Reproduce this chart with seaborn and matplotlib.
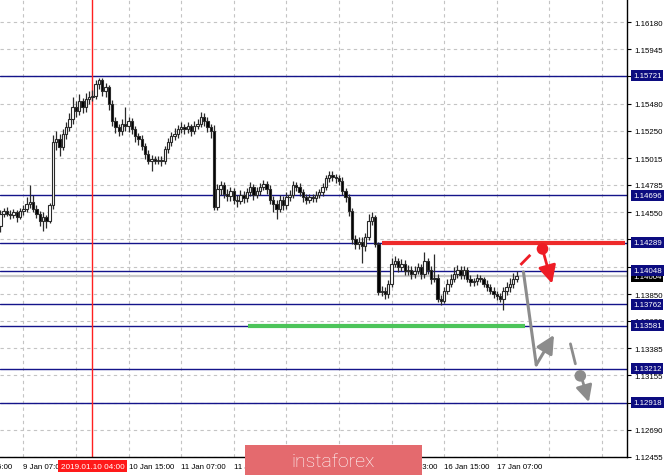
import numpy as np
import pandas as pd
import seaborn as sns
import matplotlib.pyplot as plt
import matplotlib.transforms as mtransforms
from matplotlib.patches import Rectangle

# hourly EURUSD candles (open = previous close)
first_open = 1.1443
closes = [1.1454, 1.1456, 1.1454, 1.1453, 1.1455, 1.1451, 1.1456, 1.1458, 1.1462, 1.1464,
          1.1458, 1.1454, 1.1448, 1.1451, 1.1448, 1.1461, 1.1515, 1.1518, 1.1511, 1.1522,
          1.1528, 1.1535, 1.1545, 1.1542, 1.1550, 1.1545, 1.1552, 1.1554, 1.1555, 1.1565,
          1.1568, 1.1559, 1.1562, 1.1548, 1.1533, 1.1528, 1.1525, 1.1531, 1.1529, 1.1533,
          1.1526, 1.1520, 1.1518, 1.1512, 1.1505, 1.1499, 1.1501, 1.1499, 1.1500, 1.1499,
          1.1509, 1.1515, 1.1520, 1.1522, 1.1526, 1.1528, 1.1526, 1.1529, 1.1525, 1.1529,
          1.1531, 1.1537, 1.1533, 1.1528, 1.1525, 1.1460, 1.1475, 1.1478, 1.1471, 1.1469,
          1.1473, 1.1466, 1.1465, 1.1470, 1.1467, 1.1472, 1.1477, 1.1470, 1.1473, 1.1477,
          1.1479, 1.1475, 1.1466, 1.1462, 1.1458, 1.1466, 1.1461, 1.1468, 1.1470, 1.1478,
          1.1477, 1.1472, 1.1468, 1.1466, 1.1468, 1.1467, 1.1470, 1.1472, 1.1477, 1.1484,
          1.1487, 1.1485, 1.1484, 1.1482, 1.1473, 1.1468, 1.1456, 1.1432, 1.1428, 1.1430,
          1.1426, 1.1434, 1.1448, 1.1451, 1.1428, 1.1387, 1.1388, 1.1385, 1.1394, 1.1411,
          1.1413, 1.1408, 1.1411, 1.1405, 1.1406, 1.1402, 1.1405, 1.1408, 1.1402, 1.1413,
          1.1406, 1.1398, 1.1399, 1.1381, 1.1379, 1.1388, 1.1394, 1.1398, 1.1402, 1.1406,
          1.1401, 1.1406, 1.1398, 1.1395, 1.1396, 1.1399, 1.1398, 1.1394, 1.1391, 1.1388,
          1.1385, 1.1383, 1.1381, 1.1388, 1.1391, 1.1394, 1.1398, 1.14004]
highs = [1.1457, 1.1459, 1.1460, 1.1457, 1.1458, 1.1457, 1.1459, 1.1461, 1.1468, 1.1478,
         1.1470, 1.1461, 1.1456, 1.1455, 1.1453, 1.1463, 1.1521, 1.1525, 1.1522, 1.1526,
         1.1532, 1.1540, 1.1554, 1.1550, 1.1556, 1.1553, 1.1557, 1.1559, 1.1560, 1.1568,
         1.1570, 1.1570, 1.1566, 1.1564, 1.1551, 1.1537, 1.1531, 1.1535, 1.1545, 1.1537,
         1.1536, 1.1529, 1.1523, 1.1521, 1.1514, 1.1508, 1.1504, 1.1503, 1.1503, 1.1503,
         1.1512, 1.1519, 1.1524, 1.1527, 1.1530, 1.1532, 1.1531, 1.1532, 1.1531, 1.1533,
         1.1535, 1.1541, 1.1540, 1.1537, 1.1531, 1.1530, 1.1479, 1.1482, 1.1481, 1.1475,
         1.1477, 1.1476, 1.1470, 1.1474, 1.1473, 1.1476, 1.1481, 1.1479, 1.1477, 1.1480,
         1.1483, 1.1482, 1.1478, 1.1469, 1.1466, 1.1470, 1.1469, 1.1472, 1.1474, 1.1482,
         1.1481, 1.1480, 1.1475, 1.1471, 1.1471, 1.1471, 1.1473, 1.1475, 1.1480, 1.1487,
         1.1490, 1.1490, 1.1488, 1.1487, 1.1485, 1.1476, 1.1471, 1.1459, 1.1436, 1.1434,
         1.1434, 1.1437, 1.1454, 1.1455, 1.1453, 1.1430, 1.1392, 1.1391, 1.1397, 1.1416,
         1.1418, 1.1416, 1.1415, 1.1414, 1.1410, 1.1409, 1.1409, 1.1412, 1.1411, 1.1421,
         1.1416, 1.1409, 1.1419, 1.1402, 1.1384, 1.1391, 1.1398, 1.1402, 1.1408, 1.1410,
         1.1409, 1.1409, 1.1408, 1.1401, 1.1399, 1.1402, 1.1401, 1.1400, 1.1397, 1.1394,
         1.1391, 1.1388, 1.1386, 1.1391, 1.1395, 1.1399, 1.1403, 1.1405]
lows = [1.1438, 1.1451, 1.1452, 1.1449, 1.1450, 1.1447, 1.1449, 1.1453, 1.1455, 1.1459,
        1.1455, 1.1450, 1.1443, 1.1439, 1.1442, 1.1446, 1.1458, 1.1508, 1.1503, 1.1508,
        1.1518, 1.1525, 1.1531, 1.1537, 1.1538, 1.1540, 1.1541, 1.1548, 1.1550, 1.1552,
        1.1561, 1.1555, 1.1554, 1.1543, 1.1529, 1.1523, 1.1520, 1.1521, 1.1525, 1.1524,
        1.1522, 1.1515, 1.1513, 1.1508, 1.1501, 1.1496, 1.1490, 1.1496, 1.1496, 1.1495,
        1.1496, 1.1506, 1.1512, 1.1517, 1.1519, 1.1523, 1.1522, 1.1523, 1.1520, 1.1522,
        1.1526, 1.1528, 1.1529, 1.1524, 1.1519, 1.1457, 1.1457, 1.1470, 1.1467, 1.1465,
        1.1465, 1.1462, 1.1460, 1.1462, 1.1463, 1.1464, 1.1469, 1.1466, 1.1467, 1.1470,
        1.1474, 1.1471, 1.1462, 1.1455, 1.1449, 1.1455, 1.1457, 1.1458, 1.1465, 1.1467,
        1.1473, 1.1469, 1.1464, 1.1462, 1.1463, 1.1464, 1.1464, 1.1467, 1.1469, 1.1474,
        1.1481, 1.1482, 1.1480, 1.1478, 1.1470, 1.1464, 1.1452, 1.1428, 1.1424, 1.1424,
        1.1412, 1.1422, 1.1431, 1.1444, 1.1425, 1.1384, 1.1383, 1.1381, 1.1382, 1.1391,
        1.1408, 1.1404, 1.1405, 1.1401, 1.1401, 1.1398, 1.1399, 1.1402, 1.1398, 1.1399,
        1.1402, 1.1394, 1.1395, 1.1378, 1.1376, 1.1377, 1.1385, 1.1391, 1.1395, 1.1399,
        1.1398, 1.1398, 1.1395, 1.1392, 1.1392, 1.1393, 1.1395, 1.1391, 1.1388, 1.1385,
        1.1382, 1.1380, 1.1378, 1.1371, 1.1384, 1.1387, 1.1390, 1.1395]

level_prices = [1.15721, 1.14696, 1.14289, 1.14048, 1.13762, 1.13581, 1.13212, 1.12918]
bid_price = 1.14004
price_ticks = [1.16180, 1.15945, 1.15715, 1.15480, 1.15250, 1.15015, 1.14785, 1.14550, 1.14320,
               1.14085, 1.13850, 1.13620, 1.13385, 1.13155, 1.12920, 1.12690, 1.12455]
# tick labels fully hidden under a level tag
hidden_ticks = [1.15715, 1.14320, 1.12920]

grid_bars = [7, 23, 39, 55, 71, 87, 103, 119, 135, 151, 167, 183]
# labels that stay visible (the others sit under the cursor tag / watermark)
time_bars = [-9, 7, 39, 55, 71, 119, 135, 151]
time_labels = ['8 Jan 15:00', '9 Jan 07:00', '10 Jan 15:00', '11 Jan 07:00',
               '11 Jan 23:00', '15 Jan 23:00', '16 Jan 15:00', '17 Jan 07:00']
cursor_bar = 28
cursor_label = '2019.01.10 04:00'

# resistance (red) and support (green) segments: start bar, end bar, price
red_seg = (116.2, 190.0, 1.14289)
green_seg = (75.4, 159.7, 1.13581)

# forecast sketch, in (bar, price)
red_tick_x = [158.2, 161.2]
red_tick_y = [1.14100, 1.14186]
red_arrow = [(165.2, 1.14205), (167.8, 1.13940)]
grey_path_x = [159.1, 163.0]
grey_path_y = [1.14040, 1.13244]
grey_arrow = [(163.0, 1.13244), (168.4, 1.13500)]
grey_dash_x = [173.4, 174.9]
grey_dash_y = [1.13424, 1.13253]
grey_arrow2 = [(177.0, 1.13115), (179.0, 1.12925)]
dot_bars = [164.9, 176.4]
dot_prices = [1.14237, 1.13150]
dot_kind = ['sell', 'target']

df = pd.DataFrame({'bar': np.arange(len(closes)), 'close': closes, 'high': highs, 'low': lows})
df['open'] = [first_open] + closes[:-1]
df['up'] = df['close'] >= df['open']

sns.set_style('white')
plt.rcParams['font.family'] = ['Liberation Sans', 'DejaVu Sans']

fig = plt.figure(figsize=(6.65, 4.77), dpi=100)
ax = fig.add_axes([0, 19 / 477, 627 / 665, 458 / 477])

ax.set_xlim(-0.1, 190.6)
ax.set_ylim(1.12455, 1.16377)

# grid
for gb in grid_bars:
    ax.axvline(gb, color='#c4c4c4', lw=0.8, ls=(0, (3, 3)), zorder=0)
for pt in price_ticks:
    ax.axhline(pt, color='#c4c4c4', lw=0.8, ls=(0, (3, 3)), zorder=0)

# level lines
for lp in level_prices:
    ax.axhline(lp, color='#14148a', lw=1.0, zorder=1)
ax.axhline(bid_price, color='#c8c8c8', lw=1.6, zorder=1)
ax.axvline(cursor_bar, color='#ff2020', lw=1.0, zorder=1)

ax.hlines(red_seg[2], red_seg[0], red_seg[1], color='#ee2a2a', lw=3, zorder=2)
ax.hlines(green_seg[2], green_seg[0], green_seg[1], color='#4cc45a', lw=3, zorder=2)

# candles
ax.vlines(df['bar'], df['low'], df['high'], color='#2a2a2a', lw=0.9, zorder=3)
body = (df['close'] - df['open']).where((df['close'] - df['open']).abs() > 0.00003, 0.00003)
ax.bar(df['bar'], body, bottom=df['open'], width=0.72,
       color=np.where(df['up'], 'white', 'black'), edgecolor='#2a2a2a', lw=0.8, zorder=4)

# forecast sketch
ax.plot(red_tick_x, red_tick_y, color='#ee1c25', lw=2, solid_capstyle='butt', zorder=5)
ax.annotate('', xy=red_arrow[1], xytext=red_arrow[0],
            arrowprops=dict(arrowstyle='-|>,head_length=0.9,head_width=0.45', color='#ee1c25',
                            lw=2, shrinkA=0, shrinkB=0, mutation_scale=12), zorder=5)
ax.plot(grey_path_x, grey_path_y, color='#8c8c8c', lw=2.2, zorder=5)
ax.annotate('', xy=grey_arrow[1], xytext=grey_arrow[0],
            arrowprops=dict(arrowstyle='-|>,head_length=0.9,head_width=0.45', color='#8c8c8c',
                            lw=2.2, shrinkA=0, shrinkB=0, mutation_scale=12), zorder=5)
ax.plot(grey_dash_x, grey_dash_y, color='#8c8c8c', lw=2, zorder=5)
ax.annotate('', xy=grey_arrow2[1], xytext=grey_arrow2[0],
            arrowprops=dict(arrowstyle='-|>,head_length=0.9,head_width=0.45', color='#8c8c8c',
                            lw=2, shrinkA=0, shrinkB=0, mutation_scale=11), zorder=5)
sns.scatterplot(x=dot_bars, y=dot_prices, hue=dot_kind, palette={'sell': '#ee1c25', 'target': '#8c8c8c'},
                s=70, edgecolor='none', legend=False, ax=ax, zorder=6)

# axes frame
for side in ['left', 'top']:
    ax.spines[side].set_visible(False)
for side in ['right', 'bottom']:
    ax.spines[side].set_color('black')
    ax.spines[side].set_linewidth(1)

ax.set_xticks(grid_bars)
ax.tick_params(axis='x', direction='out', length=3, width=0.8, color='black', labelbottom=False)
ax.yaxis.tick_right()
ax.set_yticks(price_ticks)
ax.set_yticklabels(['' if p in hidden_ticks else f'{p:.5f}' for p in price_ticks])
ax.tick_params(axis='y', direction='out', length=3, width=0.8, color='black', pad=2,
               labelsize=5.7, labelcolor='black')
ax.set_xlabel('')
ax.set_ylabel('')

# time labels
tx = mtransforms.blended_transform_factory(ax.transData, ax.transAxes)
for tb, tl in zip(time_bars, time_labels):
    ax.text(tb, -0.0197, tl, transform=tx, ha='left', va='center', fontsize=5.7,
            color='black', clip_on=False, zorder=6)
ax.text(cursor_bar, -0.0197, cursor_label, transform=tx, ha='center', va='center',
        fontsize=5.9, color='white', clip_on=False, zorder=7,
        bbox=dict(boxstyle='square,pad=0.3', fc='#ff1a1a', ec='none'))

# price tags on the right
ty = mtransforms.blended_transform_factory(ax.transAxes, ax.transData)
ax.text(1 + 6 / 627, bid_price, f'{bid_price:.5f}', transform=ty, ha='left', va='center',
        fontsize=5.7, color='white', clip_on=False, zorder=7,
        bbox=dict(boxstyle='square,pad=0.25', fc='black', ec='none'))
for lp in level_prices:
    ax.text(1 + 6 / 627, lp, f'{lp:.5f}', transform=ty, ha='left', va='center',
            fontsize=5.7, color='white', clip_on=False, zorder=8,
            bbox=dict(boxstyle='square,pad=0.25', fc='#0c0c80', ec='none'))

# watermark
fig.patches.append(Rectangle((245 / 665, 1 / 477), 177 / 665, 30 / 477, transform=fig.transFigure,
                             facecolor='#e46a6e', edgecolor='none', zorder=20))
fig.text(333 / 665, 15 / 477, 'instaforex', ha='center', va='center', color='white',
         fontsize=14, family=['Roboto', 'DejaVu Sans'], fontweight='light', zorder=21)

fig.savefig('out.png', dpi=100)
